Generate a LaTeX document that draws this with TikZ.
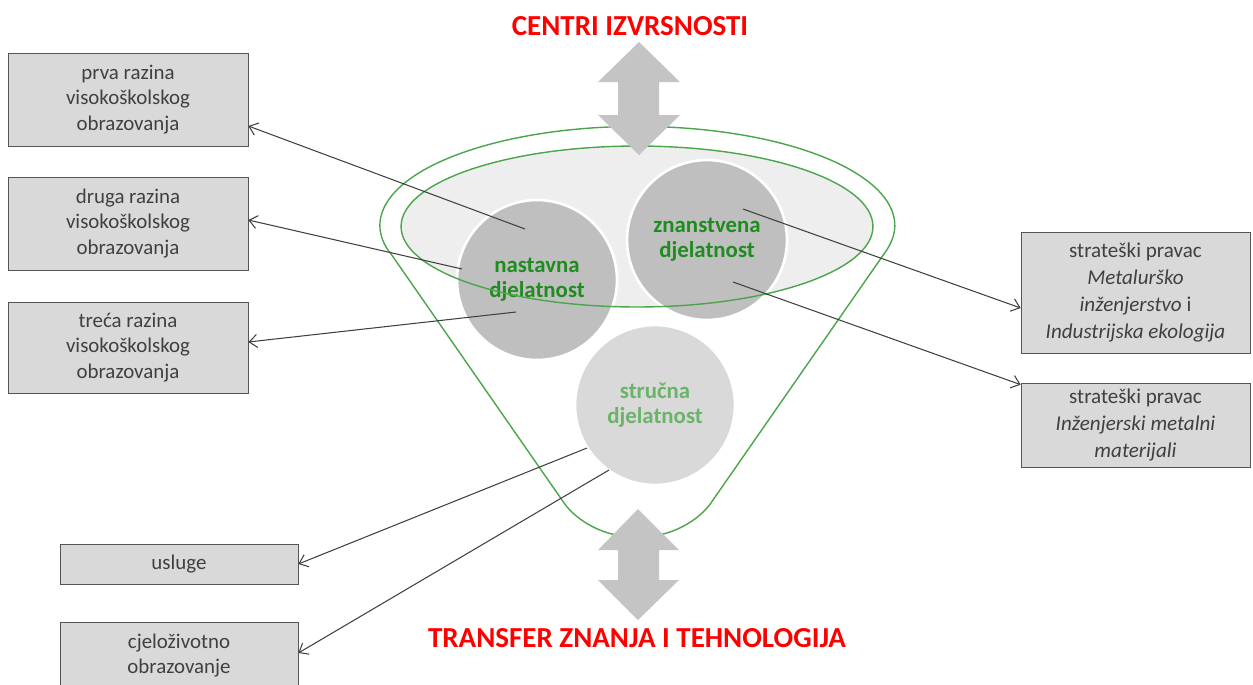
\documentclass[tikz,border=0pt]{standalone}
\usepackage{fontspec}
\setmainfont{Carlito}
\usetikzlibrary{arrows.meta,calc}
\definecolor{okvir}{RGB}{85,85,85}
\definecolor{sivo}{RGB}{217,217,217}
\definecolor{tekst}{RGB}{64,64,64}
\definecolor{lijevak}{RGB}{75,165,75}
\definecolor{otvor}{RGB}{238,238,238}
\definecolor{krugtamno}{RGB}{191,191,191}
\definecolor{krugsvijetlo}{RGB}{217,217,217}
\definecolor{zelenotamno}{RGB}{30,140,30}
\definecolor{zelenosvijetlo}{RGB}{105,180,105}
\definecolor{strelica}{RGB}{196,196,196}
\definecolor{veza}{RGB}{64,64,64}
\tikzset{
  kutija/.style={draw=okvir, fill=sivo, text=tekst, align=center, inner sep=0pt,
    font=\fontsize{11.9}{14.5}\selectfont},
  desna/.style={kutija, font=\fontsize{12}{15.3}\selectfont},
  krug/.style={circle, draw=white, line width=1.5pt, minimum size=3.2cm, inner sep=0pt,
    align=center, font=\bfseries\fontsize{13}{14.4}\selectfont},
  vezica/.style={draw=veza, line width=0.6pt, -{Straight Barb[length=1.6mm,width=2.6mm]}},
  naslov/.style={text=red, font=\bfseries\fontsize{16.5}{19}\selectfont},
}

\begin{document}
\begin{tikzpicture}[x=0.02cm, y=-0.02cm,
  rub/.style={draw=lijevak, line width=0.8pt},
  dvostruka/.style={fill=strelica}]
\path[use as bounding box, clip] (0,0) rectangle (1253,684);

% razine lijevo
\node[kutija, minimum width=4.8cm, minimum height=1.86cm] (prva) at (128,99.5) {prva razina\\visokoškolskog\\obrazovanja};
\node[kutija, minimum width=4.8cm, minimum height=1.86cm] (druga) at (128,223.5) {druga razina\\visokoškolskog\\obrazovanja};
\node[kutija, minimum width=4.8cm, minimum height=1.82cm] (treca) at (128,347.5) {treća razina\\visokoškolskog\\obrazovanja};
\node[kutija, minimum width=4.76cm, minimum height=0.8cm] (usluge) at (179,564) {usluge};
\node[kutija, minimum width=4.76cm, minimum height=1.34cm] (cjelo) at (179,655.5) {cjeloživotno\\obrazovanje};

% strateski pravci
\node[desna, minimum width=4.58cm, minimum height=2.42cm] (metal) at (1135.5,292.5)
  {strateški pravac\\\textit{Metalurško}\\\textit{inženjerstvo} i\\\textit{Industrijska ekologija}};
\node[desna, minimum width=4.58cm, minimum height=1.68cm] (inzmat) at (1135.5,425)
  {strateški pravac\\\textit{Inženjerski metalni}\\\textit{materijali}};

% lijevak
\fill[otvor] (637,226.5) ellipse[x radius=4.72cm, y radius=1.61cm];
\node[krug, fill=krugtamno, text=zelenotamno] (nast) at (537,280) {nastavna\\djelatnost};
\node[krug, fill=krugtamno, text=zelenotamno] (znan) at (707,240) {znanstvena\\djelatnost};
\node[krug, fill=krugsvijetlo, text=zelenosvijetlo] (struc) at (655,405) {stručna\\djelatnost};
\draw[rub] (637,226.5) ellipse[x radius=4.72cm, y radius=1.61cm];
\draw[rub, rounded corners=0.8cm] (389,251) -- (587,536) -- (688,536) -- (886,251);
\draw[rub] (886,251) arc[start angle=-15, end angle=195, x radius=5.15cm, y radius=1.98cm];

% strelice gore i dolje
\fill[dvostruka] (639,42) -- (680,82) -- (659,82) -- (659,115) -- (680,115) -- (639,155)
  -- (598,115) -- (618,115) -- (618,82) -- (598,82) -- cycle;
\fill[dvostruka] (638,509) -- (679,550) -- (659,550) -- (659,580) -- (679,580) -- (638,620)
  -- (598,580) -- (618,580) -- (618,550) -- (598,550) -- cycle;
\node[naslov] (centri) at (630,26) {CENTRI IZVRSNOSTI};
\node[naslov] (transfer) at (637,638) {TRANSFER ZNANJA I TEHNOLOGIJA};

% veze
\draw[vezica] ($(nast)+(-12,-51)$) -- ($(prva.east)+(0,26.5)$);
\draw[vezica] ($(nast)+(-75,-11)$) -- ($(druga.east)+(0,-3.5)$);
\draw[vezica] ($(nast)+(-21,32)$) -- ($(treca.east)+(0,-5.5)$);
\draw[vezica] ($(znan)+(36,-31)$) -- ($(metal.west)+(0,15.5)$);
\draw[vezica] ($(znan)+(26,42)$) -- ($(inzmat.north west)+(0,2)$);
\draw[vezica] ($(struc)+(-68,43)$) -- (usluge.east);
\draw[vezica] ($(struc)+(-46,65)$) -- ($(cjelo.east)+(0,-2.5)$);
\end{tikzpicture}
\end{document}
